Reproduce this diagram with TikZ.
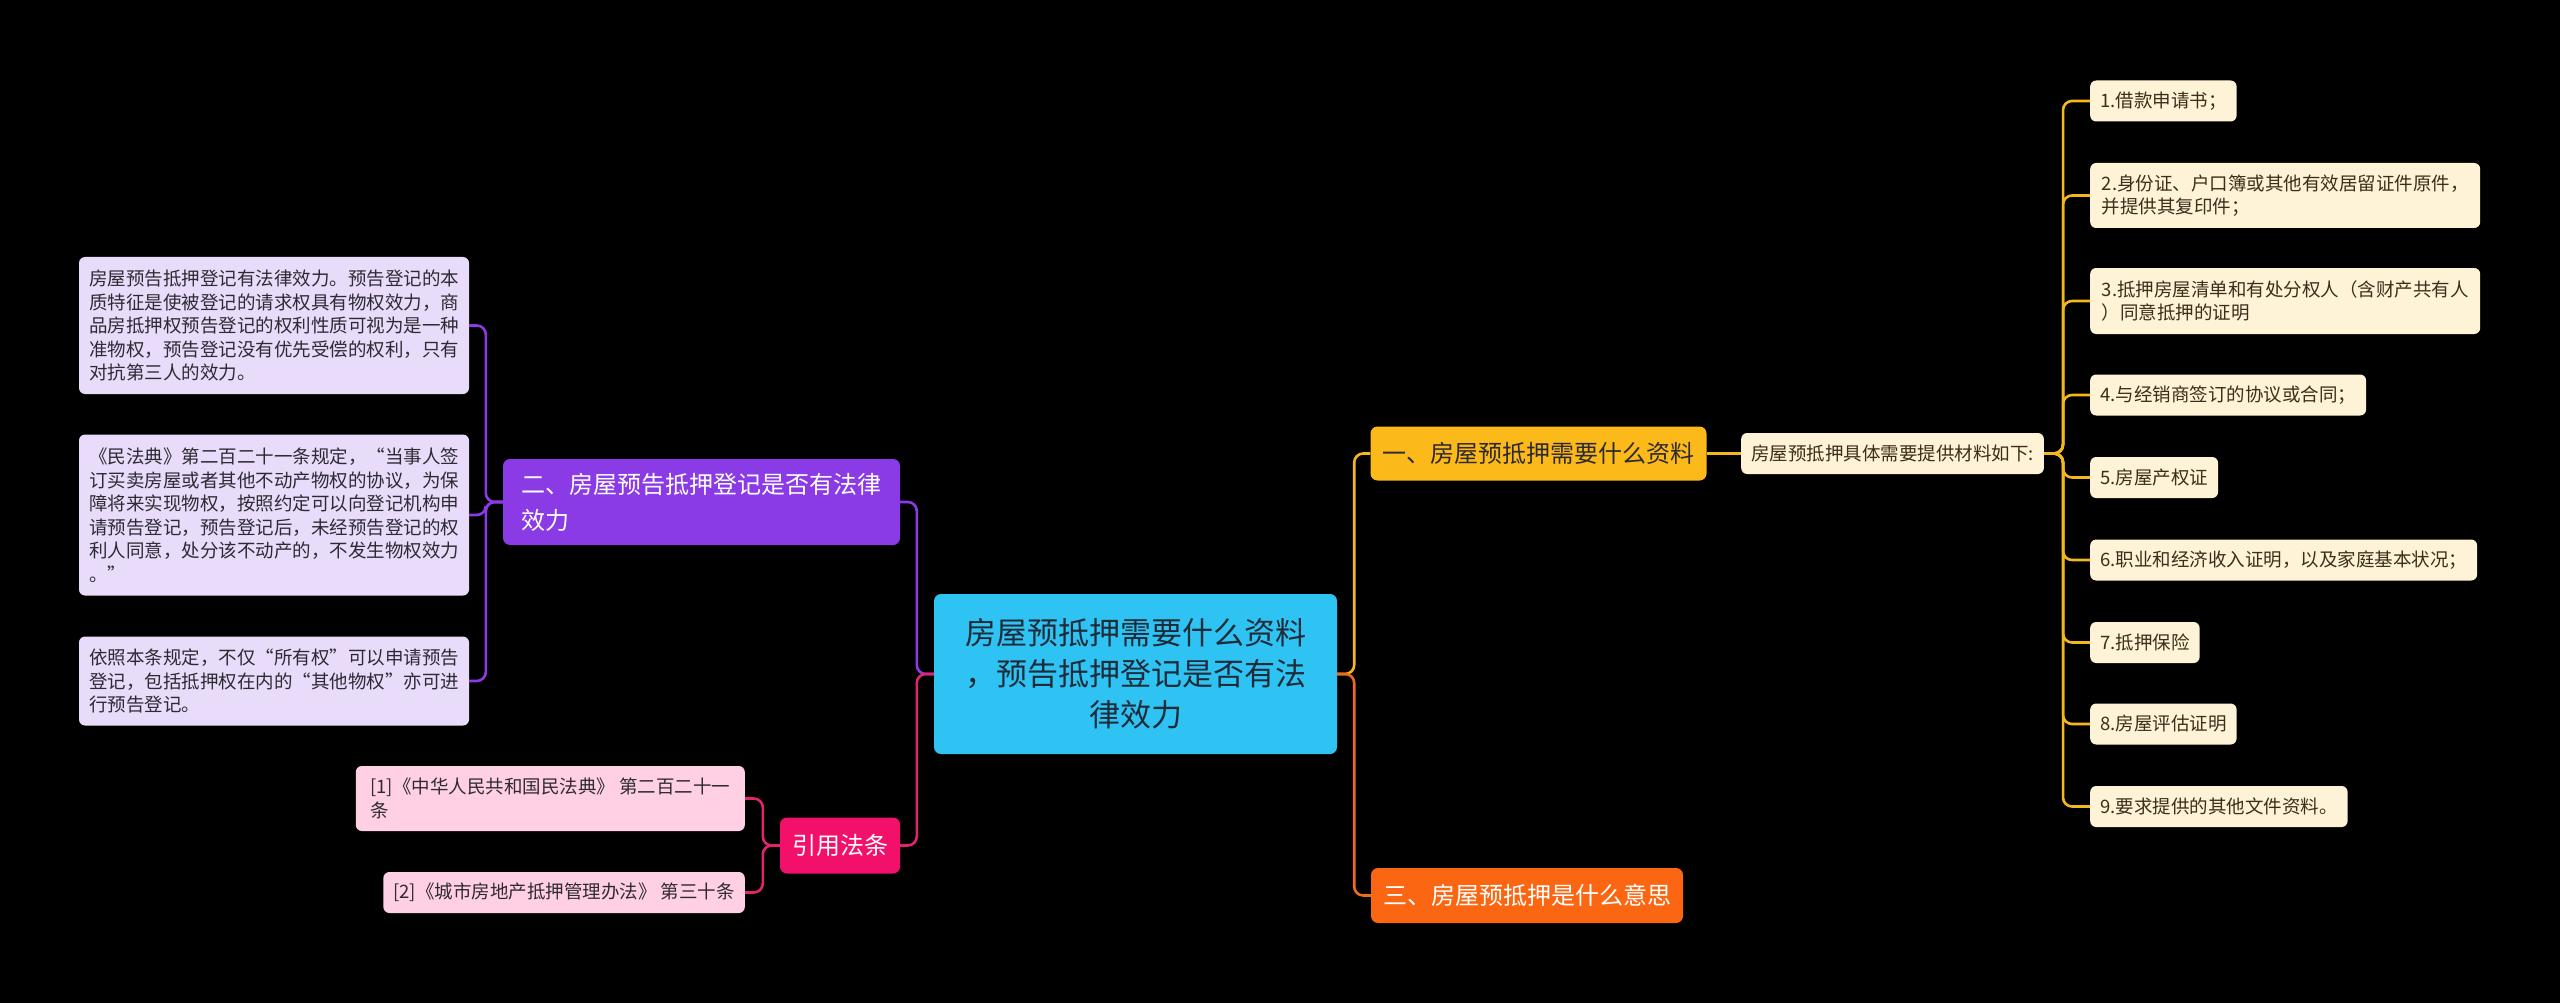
\documentclass[tikz,border=0pt]{standalone}
\usepackage{fontspec}
\setmainfont{Noto Sans CJK SC}
\usepackage{tikz}
\usetikzlibrary{positioning}
\definecolor{rootblue}{HTML}{2FC3F3}
\definecolor{rootink}{HTML}{1E2C3A}
\definecolor{goldfill}{HTML}{FBB91A}
\definecolor{goldline}{HTML}{F2B81E}
\definecolor{creamfill}{HTML}{FEF3D6}
\definecolor{creamink}{HTML}{3A2F1A}
\definecolor{purplefill}{HTML}{8B3BE6}
\definecolor{lavfill}{HTML}{E8DCFA}
\definecolor{pinkfill}{HTML}{F2106B}
\definecolor{pinkline}{HTML}{E0246E}
\definecolor{rosefill}{HTML}{FFD0E3}
\definecolor{orangefill}{HTML}{FA6612}
\definecolor{orangeline}{HTML}{EE6A1E}
\definecolor{darkink}{HTML}{2E2A33}
\tikzset{
  rootbox/.style={fill=rootblue,text=rootink,rounded corners=7pt,align=center,
    font=\fontsize{31}{41}\selectfont,minimum width=403pt,minimum height=160pt},
  secbox/.style={rounded corners=7pt,text=white,inner sep=12pt,
    font=\fontsize{24}{36}\selectfont,minimum height=53pt},
  notebox/.style={fill=lavfill,text=darkink,rounded corners=6pt,align=left,
    inner xsep=10pt,font=\fontsize{18.5}{23.5}\selectfont,minimum width=389pt},
  refbox/.style={fill=rosefill,text=darkink,rounded corners=6pt,align=left,
    inner xsep=10pt,font=\fontsize{18.5}{23.5}\selectfont},
  itembox/.style={fill=creamfill,text=creamink,rounded corners=6pt,align=left,
    inner xsep=10pt,font=\fontsize{18.5}{23.5}\selectfont,minimum height=41pt},
  link/.style={line width=2.6pt,rounded corners=9pt},
}
\begin{document}
\begin{tikzpicture}[x=1pt,y=-1pt]
\fill[black] (0,0) rectangle (2560,1003);
\useasboundingbox (0,0) rectangle (2560,1003);
% centre
\node[rootbox] (root) at (1135.5,674) {房屋预抵押需要什么资料\\，预告抵押登记是否有法\\律效力};
% left branch: 二
\node[secbox,fill=purplefill,align=left,minimum width=397pt,minimum height=86pt]
  (sec2) at (701.5,502) {二、房屋预告抵押登记是否有法律\\效力};
\node[notebox,minimum height=137pt] (lt1) at (274,325.5)
  {房屋预告抵押登记有法律效力。预告登记的本\\质特征是使被登记的请求权具有物权效力，商\\品房抵押权预告登记的权利性质可视为是一种\\准物权，预告登记没有优先受偿的权利，只有\\对抗第三人的效力。};
\node[notebox,minimum height=161pt] (lt2) at (274,515)
  {《民法典》第二百二十一条规定，“当事人签\\订买卖房屋或者其他不动产物权的协议，为保\\障将来实现物权，按照约定可以向登记机构申\\请预告登记，预告登记后，未经预告登记的权\\利人同意，处分该不动产的，不发生物权效力\\。”};
\node[notebox,minimum height=89pt] (lt3) at (274,681)
  {依照本条规定，不仅“所有权”可以申请预告\\登记，包括抵押权在内的“其他物权”亦可进\\行预告登记。};
% left branch: 引用法条
\node[secbox,fill=pinkfill,inner sep=8pt,minimum width=120pt,minimum height=56pt]
  (cite) at (840,845.5) {引用法条};
\node[refbox,anchor=east,minimum width=389pt,minimum height=65pt] (ref1) at (745,798.5)
  {[1]《中华人民共和国民法典》 第二百二十一\\条};
\node[refbox,anchor=east,minimum height=41pt] (ref2) at (745,892.5)
  {[2]《城市房地产抵押管理办法》 第三十条};
% right branch: 一
\node[secbox,fill=goldfill,text=darkink,minimum width=334pt,minimum height=54pt]
  (sec1) at (1538.5,453.5) {一、房屋预抵押需要什么资料};
\node[itembox,anchor=west] (detail) at (1741,453.5) {房屋预抵押具体需要提供材料如下:};
\node[itembox,anchor=west] (it1) at (2090,101) {1.借款申请书；};
\node[itembox,anchor=west,minimum width=390pt,minimum height=65pt] (it2) at (2090,195.5)
  {2.身份证、户口簿或其他有效居留证件原件，\\并提供其复印件；};
\node[itembox,anchor=west,minimum width=390pt,minimum height=66pt] (it3) at (2090,301)
  {3.抵押房屋清单和有处分权人（含财产共有人\\）同意抵押的证明};
\node[itembox,anchor=west] (it4) at (2090,395) {4.与经销商签订的协议或合同；};
\node[itembox,anchor=west] (it5) at (2090,477.5) {5.房屋产权证};
\node[itembox,anchor=west] (it6) at (2090,560) {6.职业和经济收入证明，以及家庭基本状况；};
\node[itembox,anchor=west] (it7) at (2090,642.5) {7.抵押保险};
\node[itembox,anchor=west] (it8) at (2090,724) {8.房屋评估证明};
\node[itembox,anchor=west] (it9) at (2090,806.5) {9.要求提供的其他文件资料。};
% right branch: 三
\node[secbox,fill=orangefill,minimum width=310pt,minimum height=55pt]
  (sec3) at (1527,895.5) {三、房屋预抵押是什么意思};
% connectors
\draw[link,purplefill] (root.west) -- ++(-17,0) |- (sec2.east);
\draw[link,pinkline] (root.west) -- ++(-17,0) |- (cite.east);
\foreach \n in {lt1,lt2,lt3}
  \draw[link,purplefill] (sec2.west) -- ++(-17,0) |- (\n.east);
\foreach \n in {ref1,ref2}
  \draw[link,pinkline] (cite.west) -- ++(-17,0) |- (\n.east);
\draw[link,goldline] (root.east) -- ++(17,0) |- (sec1.west);
\draw[link,orangeline] (root.east) -- ++(17,0) |- (sec3.west);
\draw[link,goldline] (sec1.east) -- (detail.west);
\foreach \n in {it1,it2,it3,it4,it5,it6,it7,it8,it9}
  \draw[link,goldline] (detail.east) -- ++(19,0) |- (\n.west);
\end{tikzpicture}
\end{document}
